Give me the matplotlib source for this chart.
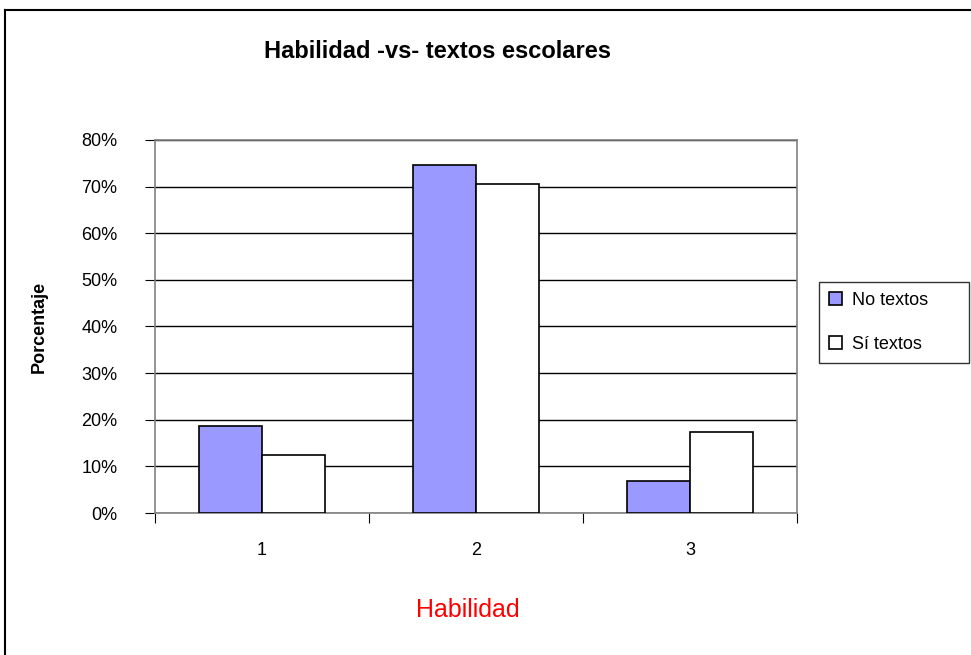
import numpy as np
import matplotlib.pyplot as plt
from matplotlib.lines import Line2D

plt.rcParams['font.family'] = ['Liberation Sans', 'DejaVu Sans']

categorias = ['1', '2', '3']
no_textos = [18.7, 74.6, 6.8]
si_textos = [12.4, 70.5, 17.3]
y_ticks = [0, 10, 20, 30, 40, 50, 60, 70, 80]

fig = plt.figure(figsize=(9.71, 6.55), dpi=100)
ax = fig.add_axes([155 / 971, 1 - 513 / 655, 642 / 971, 373 / 655])

x = np.arange(len(categorias))
w = 0.295
ax.bar(x - w / 2, no_textos, w, color='#9999FF', edgecolor='black', linewidth=1.2, zorder=3, label='No textos')
ax.bar(x + w / 2, si_textos, w, color='white', edgecolor='black', linewidth=1.2, zorder=3, label='Sí textos')

ax.set_xlim(-0.5, 2.5)
ax.set_ylim(0, 80)
ax.set_yticks(y_ticks)
ax.set_yticklabels([f'{v}%' for v in y_ticks], fontsize=13)
ax.yaxis.grid(True, color='black', linewidth=1, zorder=0)
ax.set_axisbelow(True)

# categorias centradas, marcas en los limites
ax.set_xticks([-0.5, 0.5, 1.5, 2.5])
ax.set_xticklabels([])
ax.set_xticks(x, minor=True)
ax.set_xticklabels(categorias, minor=True, fontsize=13)
ax.tick_params(axis='x', which='minor', length=0, pad=21)
ax.tick_params(axis='x', which='major', length=7, direction='out', color='black')
ax.tick_params(axis='y', length=7, direction='out', color='black', pad=20)
for s in ax.spines.values():
    s.set_color('#808080')
    s.set_linewidth(1.2)

ax.set_ylabel('Porcentaje', fontsize=13, fontweight='bold', labelpad=24)
fig.text(468 / 971, 1 - 610 / 655, 'Habilidad', color='red', fontsize=18, ha='center', va='center')
fig.text(437 / 971, 1 - 52 / 655, 'Habilidad -vs- textos escolares', fontsize=17, fontweight='bold',
         ha='center', va='center')

leg = ax.legend(loc='upper left', bbox_to_anchor=(819 / 971, 1 - 370 / 655, 150 / 971, 88 / 655),
                bbox_transform=fig.transFigure, mode='expand',
                frameon=True, fancybox=False, fontsize=13, handlelength=0.75, handleheight=0.75,
                handletextpad=0.5, borderpad=0.55, labelspacing=1.5, borderaxespad=0)
leg.get_frame().set_edgecolor('black')
leg.get_frame().set_linewidth(1)

# marco exterior
fig.add_artist(Line2D([5 / 971, 1], [1 - 10 / 655] * 2, color='black', linewidth=1.5))
fig.add_artist(Line2D([5 / 971] * 2, [0, 1 - 10 / 655], color='black', linewidth=1.5))

fig.savefig('out.png', dpi=100)
